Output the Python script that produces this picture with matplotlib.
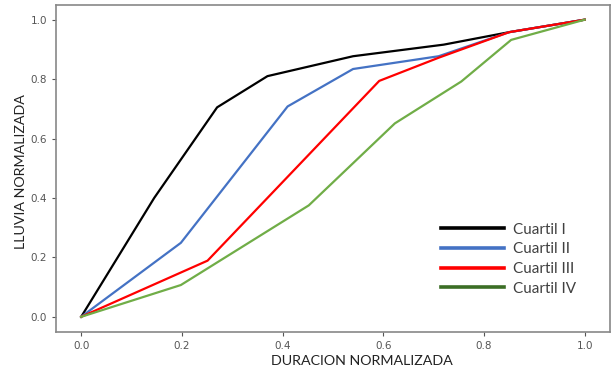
import matplotlib.pyplot as plt

# Duracion / lluvia normalizada por cuartil
x_q1 = [0.0, 0.145, 0.27, 0.37, 0.54, 0.72, 0.85, 1.0]
y_q1 = [0.0, 0.40, 0.705, 0.81, 0.877, 0.916, 0.958, 1.0]

x_q2 = [0.0, 0.198, 0.41, 0.54, 0.71, 0.85, 1.0]
y_q2 = [0.0, 0.249, 0.708, 0.834, 0.877, 0.958, 1.0]

x_q3 = [0.0, 0.251, 0.592, 0.71, 0.85, 1.0]
y_q3 = [0.0, 0.189, 0.794, 0.872, 0.958, 1.0]

x_q4 = [0.0, 0.198, 0.452, 0.623, 0.755, 0.854, 1.0]
y_q4 = [0.0, 0.107, 0.375, 0.651, 0.792, 0.932, 1.0]

labels = ['Cuartil I', 'Cuartil II', 'Cuartil III', 'Cuartil IV']
colors = ['#000000', '#4472c4', '#ff0000', '#70ad47']
legend_colors = ['#000000', '#4472c4', '#ff0000', '#3b6e25']

fig = plt.figure(figsize=(6.12, 3.71), dpi=100)
ax = fig.add_axes([0.0915, 0.106, 0.905, 0.881])

series = [(x_q1, y_q1), (x_q2, y_q2), (x_q3, y_q3), (x_q4, y_q4)]
for (xs, ys), lab, c in zip(series, labels, colors):
    ax.plot(xs, ys, color=c, lw=1.6, label=lab)

ax.set_xlim(-0.05, 1.05)
ax.set_ylim(-0.05, 1.05)
ax.set_xticks([0.0, 0.2, 0.4, 0.6, 0.8, 1.0])
ax.set_yticks([0.0, 0.2, 0.4, 0.6, 0.8, 1.0])
ax.tick_params(labelsize=7.5, colors='#555555', length=3, width=0.8)
for s in ax.spines.values():
    s.set_color('#888888')
    s.set_linewidth(1.2)

ax.set_xlabel('DURACION NORMALIZADA', fontsize=10.3, family='Lato', color='#222222')
ax.set_ylabel('LLUVIA NORMALIZADA', fontsize=10.3, family='Lato', color='#222222')
ax.xaxis.set_label_coords(0.553, -0.07)
ax.yaxis.set_label_coords(-0.052, 0.491)

leg = ax.legend(loc='upper left', bbox_to_anchor=(0.682, 0.357), frameon=False,
                prop={'family': 'Lato', 'size': 11}, handlelength=4.1,
                labelspacing=0.37, handletextpad=0.6, borderpad=0)
for line, c in zip(leg.get_lines(), legend_colors):
    line.set_color(c)
    line.set_linewidth(2.6)
for t in leg.get_texts():
    t.set_color('#404040')

fig.savefig('out.png', dpi=100)
